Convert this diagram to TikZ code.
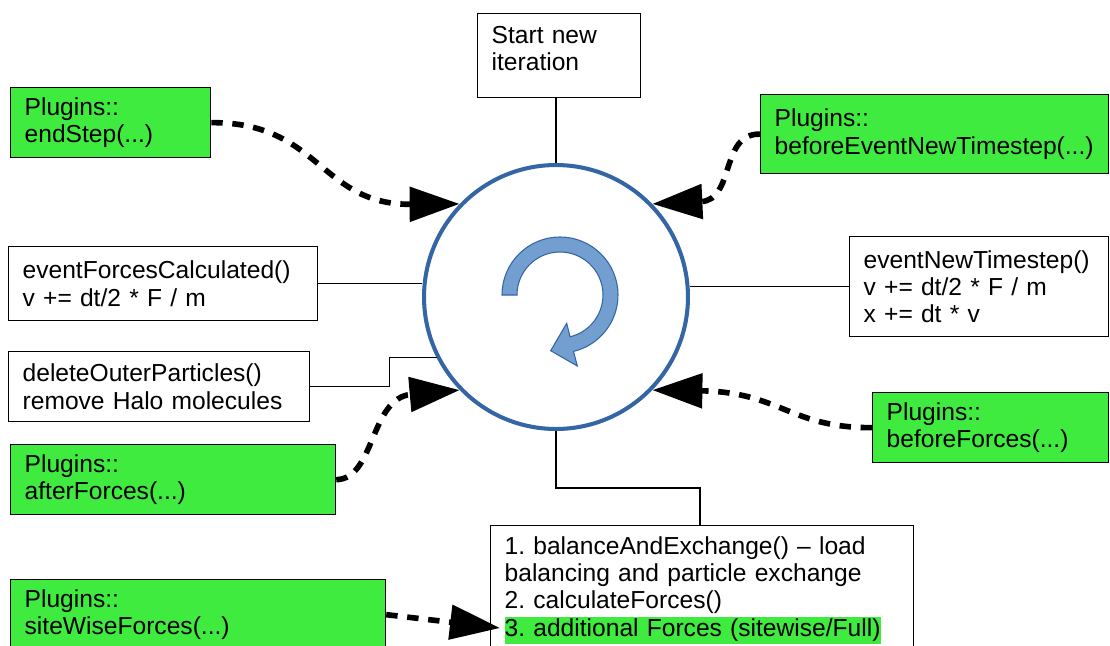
\documentclass[tikz,border=0pt]{standalone}
\usepackage{fontspec}
\setmainfont{Liberation Sans}
\usetikzlibrary{arrows.meta}
\definecolor{plugingreen}{RGB}{62,235,62}
\definecolor{loopblue}{RGB}{52,101,164}
\definecolor{loopfill}{RGB}{114,159,207}

\begin{document}
\begin{tikzpicture}[x=0.02cm,y=-0.02cm,
  box/.style={draw,line width=0.75pt,anchor=north west,align=left,inner xsep=0.28cm,
    font=\fontsize{14}{15.5}\selectfont\frenchspacing},
  plugin/.style={box,fill=plugingreen},
  link/.style={line width=0.75pt},
  hook/.style={line width=3.2pt,dash pattern=on 6.5pt off 5.5pt,
    -{Triangle[length=1cm,width=0.68cm]}}]
\useasboundingbox (0,0) rectangle (1110,646);

% the loop
\node[circle,draw=loopblue,line width=2.3pt,minimum size=5.28cm] (loop) at (556,297) {};
\begin{scope}[shift={(560,295)},y=0.02cm]
\filldraw[fill=loopfill,draw=loopblue,line width=0.6pt]
  (180:58) arc[start angle=180,end angle=-76.5,radius=58] -- (17.3,-71) -- (-9.3,-55.7)
  -- (6.7,-28.3) -- (-76.5:43) arc[start angle=-76.5,end angle=180,radius=43] -- cycle;
\end{scope}

% steps
\node[box,text width=2.7cm,minimum height=1.68cm,text depth=0.84cm] (start) at (477,13) {Start new\\iteration};
\node[box,text width=5.62cm,minimum height=1.48cm] (calc) at (8,246) {eventForcesCalculated()\\v += dt/2 * F / m};
\node[box,text width=4.62cm,minimum height=2cm] (step) at (849,236) {eventNewTimestep()\\v += dt/2 * F / m\\x += dt * v};
\node[box,text width=5.46cm,minimum height=1.4cm] (halo) at (8,351) {deleteOuterParticles()\\remove Halo molecules};
\node[box,text width=7.9cm,inner ysep=0.22cm] (forces) at (490,525) {1. balanceAndExchange() \textendash{} load\\balancing and particle exchange\\2. calculateForces()\\{\setlength{\fboxsep}{0pt}\colorbox{plugingreen}{\strut 3. additional Forces (sitewise/Full)}}};

% plugins
\node[plugin,text width=3.44cm,minimum height=1.4cm] (endstep) at (10,87) {Plugins::\\endStep(...)};
\node[plugin,text width=6.4cm,minimum height=1.58cm] (beforestep) at (760,94) {Plugins::\\beforeEventNewTimestep(...)};
\node[plugin,text width=5.94cm,minimum height=1.4cm] (afterforces) at (10,444) {Plugins::\\afterForces(...)};
\node[plugin,text width=4.16cm,minimum height=1.4cm] (beforeforces) at (872,392) {Plugins::\\beforeForces(...)};
\node[plugin,text width=6.94cm,minimum height=1.4cm] (sitewiseforces) at (10,579) {Plugins::\\siteWiseForces(...)};
\coordinate (sitewise) at (500,628);
\coordinate (bend) at (700,488);

\draw[link] (loop.north) -- (loop.north |- start.south);
\draw[link] (calc.east) -- (calc.east -| loop.west);
\draw[link] (step.west) -- (step.west -| loop.east);
\draw[link] (halo.east) -- ++(79,0) |- (loop.207);
\draw[link] (loop.south) |- (bend) -- (bend |- forces.north);

\draw[hook] (endstep.east) .. controls (320,122) and (320,205) .. (loop.136);
\draw[hook] (beforestep.west) .. controls (720,133) and (735,200) .. (loop.44);
\draw[hook] (afterforces.east) .. controls (375,479) and (370,398) .. (loop.224);
\draw[hook] (beforeforces.west) .. controls (790,428) and (780,392) .. (loop.316);
\draw[hook] (sitewiseforces.east) -- (sitewise);
\end{tikzpicture}
\end{document}
